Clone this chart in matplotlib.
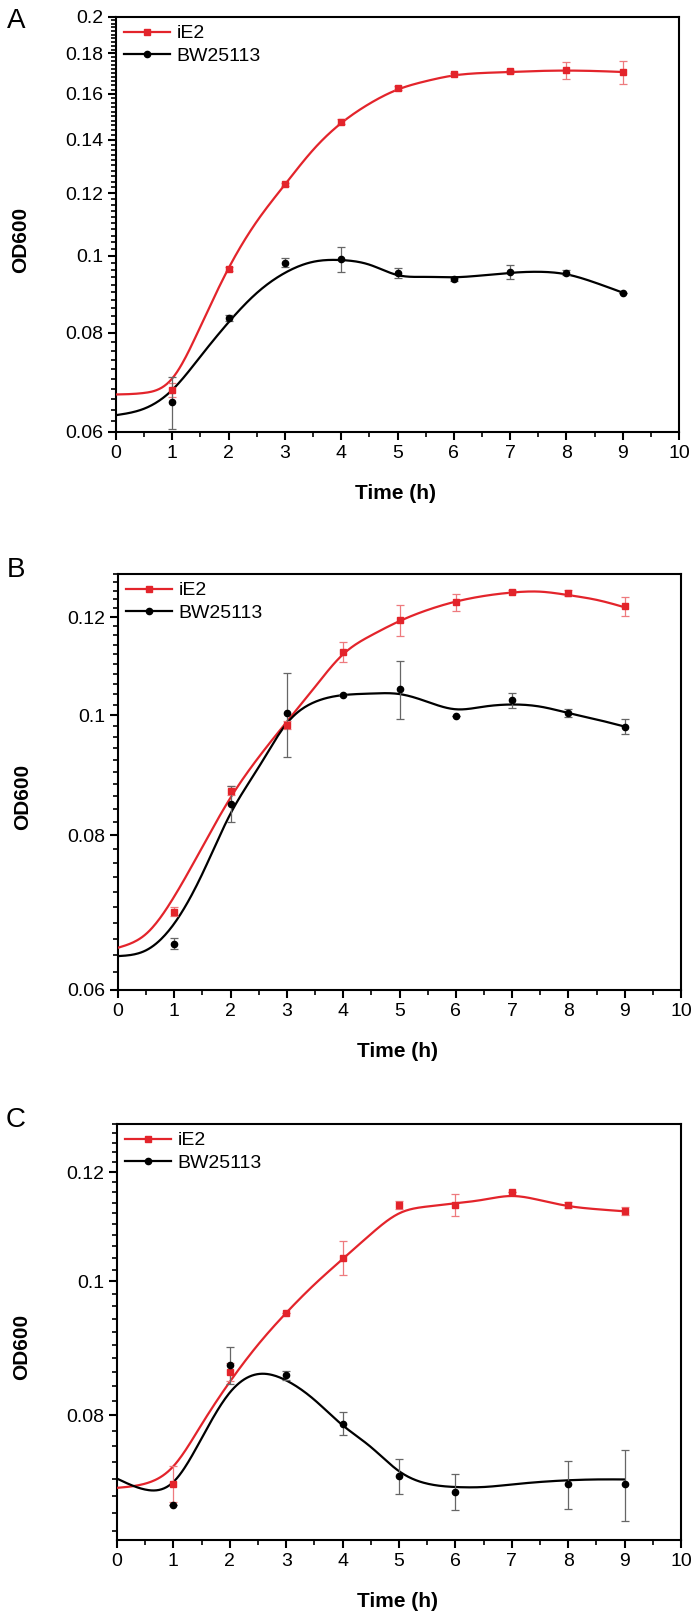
import numpy as np
import matplotlib
matplotlib.use("Agg")
import matplotlib.pyplot as plt
from matplotlib.lines import Line2D
from matplotlib.ticker import FixedLocator, FixedFormatter, NullFormatter

plt.rcParams['font.family'] = ['Liberation Sans', 'DejaVu Sans']

# sampling times (h)
t = [1, 2, 3, 4, 5, 6, 7, 8, 9]
# knots of the smooth fitted curves (every half hour, 0..9 h)
t_fit = [0, 0.5, 1, 1.5, 2, 2.5, 3, 3.5, 4, 4.5, 5, 5.5, 6, 6.5, 7, 7.5, 8, 8.5, 9]

# panel A
a_ie2 = [0.0678, 0.0963, 0.1231, 0.1476, 0.1626, 0.1694, 0.1708, 0.1713, 0.1705]
a_ie2_err = [0.0014, 0.0006, 0.0006, 0.0010, 0.0010, 0.0005, 0.0006, 0.0043, 0.0057]
a_bw = [0.0654, 0.0835, 0.0981, 0.0990, 0.0951, 0.0934, 0.0955, 0.0953, 0.0899]
a_bw_err = [0.0049, 0.0008, 0.0012, 0.0035, 0.0014, 0.0005, 0.0020, 0.0007, 0.0]
a_ie2_fit = [0.0669, 0.0672, 0.0701, 0.0815, 0.0965, 0.1105, 0.1230, 0.1360, 0.1470, 0.1555,
             0.1620, 0.1660, 0.1688, 0.1700, 0.1705, 0.1710, 0.1712, 0.1710, 0.1705]
a_bw_fit = [0.0630, 0.0642, 0.0678, 0.0747, 0.0825, 0.0898, 0.0952, 0.0983, 0.0988, 0.0975,
            0.0946, 0.0941, 0.0940, 0.0945, 0.0952, 0.0955, 0.0948, 0.0926, 0.0899]

# panel B
b_ie2 = [0.0694, 0.0869, 0.0982, 0.1125, 0.1193, 0.1233, 0.1258, 0.1254, 0.1224]
b_ie2_err = [0.0006, 0.0007, 0.0008, 0.0021, 0.0035, 0.0020, 0.0003, 0.0007, 0.0021]
b_bw = [0.0654, 0.0848, 0.1004, 0.1039, 0.1049, 0.0998, 0.1028, 0.1004, 0.0979]
b_bw_err = [0.0007, 0.0028, 0.0078, 0.0, 0.0057, 0.0, 0.0014, 0.0007, 0.0014]
b_ie2_fit = [0.0649, 0.0666, 0.0714, 0.0783, 0.0858, 0.0925, 0.0988, 0.1054, 0.1120, 0.1160,
             0.1191, 0.1216, 0.1235, 0.1248, 0.1256, 0.1258, 0.1250, 0.1239, 0.1222]
b_bw_fit = [0.0639, 0.0646, 0.0679, 0.0745, 0.0833, 0.0908, 0.0985, 0.1025, 0.1038, 0.1041,
            0.1040, 0.1025, 0.1011, 0.1016, 0.1020, 0.1016, 0.1004, 0.0992, 0.0979]

# panel C (no BW25113 value at 7 h)
c_ie2 = [0.0714, 0.0860, 0.0949, 0.1040, 0.1136, 0.1136, 0.1161, 0.1136, 0.1125]
c_ie2_err = [0.0021, 0.0013, 0.0, 0.0029, 0.0008, 0.0021, 0.0, 0.0006, 0.0007]
c_bw = [0.0689, 0.0870, 0.0855, 0.0789, 0.0723, 0.0704, np.nan, 0.0713, 0.0713]
c_bw_err = [0.0, 0.0027, 0.0006, 0.0015, 0.0021, 0.0021, np.nan, 0.0028, 0.0042]
c_ie2_fit = [0.0709, 0.0714, 0.0735, 0.0788, 0.0846, 0.0900, 0.0949, 0.0995, 0.1038, 0.1082,
             0.1120, 0.1133, 0.1139, 0.1146, 0.1153, 0.1145, 0.1134, 0.1128, 0.1124]
c_bw_fit = [0.0720, 0.0707, 0.0716, 0.0770, 0.0831, 0.0857, 0.0848, 0.0821, 0.0787, 0.0759,
            0.0729, 0.0714, 0.0710, 0.0710, 0.0713, 0.0716, 0.0718, 0.0719, 0.0719]

labels = ['iE2', 'BW25113']
panels = ['A', 'B', 'C']
y_limits = [(0.06, 0.2), (0.06, 0.13), (0.065, 0.13)]

RED = '#e3242b'
RED_ERR = '#ee7a7e'
GREY_ERR = '#666666'


def spline(xk, yk, xs):
    # natural cubic spline through the knots
    xk = np.asarray(xk, float)
    yk = np.asarray(yk, float)
    n = len(xk)
    h = np.diff(xk)
    A = np.zeros((n, n))
    r = np.zeros(n)
    A[0, 0] = A[-1, -1] = 1
    for i in range(1, n - 1):
        A[i, i - 1] = h[i - 1]
        A[i, i] = 2 * (h[i - 1] + h[i])
        A[i, i + 1] = h[i]
        r[i] = 3 * ((yk[i + 1] - yk[i]) / h[i] - (yk[i] - yk[i - 1]) / h[i - 1])
    c = np.linalg.solve(A, r)
    b = (yk[1:] - yk[:-1]) / h - h * (2 * c[:-1] + c[1:]) / 3
    d = (c[1:] - c[:-1]) / (3 * h)
    idx = np.clip(np.searchsorted(xk, xs) - 1, 0, n - 2)
    dx = xs - xk[idx]
    return yk[idx] + b[idx] * dx + c[idx] * dx ** 2 + d[idx] * dx ** 3


fig = plt.figure(figsize=(6.98, 16.19), dpi=100)
W, H = 698, 1619
boxes = [(116, 17, 679, 432), (118, 574, 681, 990), (117, 1124, 681, 1540)]

data = [
    (a_ie2, a_ie2_err, a_bw, a_bw_err, a_ie2_fit, a_bw_fit),
    (b_ie2, b_ie2_err, b_bw, b_bw_err, b_ie2_fit, b_bw_fit),
    (c_ie2, c_ie2_err, c_bw, c_bw_err, c_ie2_fit, c_bw_fit),
]

xs = np.linspace(0, 9, 400)
for k, (l, top, r, bot) in enumerate(boxes):
    ax = fig.add_axes([l / W, 1 - bot / H, (r - l) / W, (bot - top) / H])
    ie2, ie2_err, bw, bw_err, ie2_fit, bw_fit = data[k]

    ax.plot(xs, np.exp(spline(t_fit, np.log(ie2_fit), xs)), color=RED, lw=1.6, zorder=3)
    ax.plot(xs, np.exp(spline(t_fit, np.log(bw_fit), xs)), color='black', lw=1.6, zorder=3)
    ax.errorbar(t, ie2, yerr=ie2_err, fmt='s', ms=4, color=RED, ecolor=RED_ERR,
                elinewidth=0.9, capsize=3, capthick=0.9, zorder=4)
    ax.errorbar(t, bw, yerr=bw_err, fmt='o', ms=4.5, color='black', ecolor=GREY_ERR,
                elinewidth=0.9, capsize=3, capthick=0.9, zorder=4)

    ax.set_yscale('log')
    lo, hi = y_limits[k]
    ax.set_ylim(lo, hi)
    ax.set_xlim(0, 10)

    majors = [v for v in [0.06, 0.08, 0.1, 0.12, 0.14, 0.16, 0.18, 0.2] if lo - 1e-9 <= v <= hi + 1e-9]
    minors = [v for v in np.round(np.arange(0.06, 0.2001, 0.002), 3)
              if lo <= v <= hi and not any(abs(v - m) < 1e-9 for m in majors)]
    ax.yaxis.set_major_locator(FixedLocator(majors))
    ax.yaxis.set_major_formatter(FixedFormatter(['%g' % v for v in majors]))
    ax.yaxis.set_minor_locator(FixedLocator(minors))
    ax.yaxis.set_minor_formatter(NullFormatter())
    ax.set_xticks(range(0, 11))
    ax.set_xticks(np.arange(0.5, 10, 1), minor=True)

    ax.tick_params(which='major', direction='out', length=6, width=1.5, labelsize=14, pad=3)
    ax.tick_params(which='minor', direction='out', length=3.5, width=1.2)
    for s in ax.spines.values():
        s.set_linewidth(1.5)

    ax.set_xlabel('Time (h)', fontsize=15, fontweight='bold')
    ax.xaxis.set_label_coords(0.497, -0.125)
    ax.set_ylabel('OD600', fontsize=15, fontweight='bold')
    ax.yaxis.set_label_coords(-0.152, 0.464)

    handles = [Line2D([], [], color=RED, marker='s', ms=4, lw=1.6),
               Line2D([], [], color='black', marker='o', ms=4.5, lw=1.6)]
    ax.legend(handles, labels, loc='upper left', frameon=False, fontsize=14,
              handlelength=2.4, handletextpad=0.3, labelspacing=0.25,
              borderaxespad=0.2, borderpad=0.2)

    fig.text(16 / W, 1 - (top + 4 if k == 0 else top - 4) / H, panels[k],
             fontsize=20, ha='center', va='center')

fig.savefig('out.png', dpi=100)
